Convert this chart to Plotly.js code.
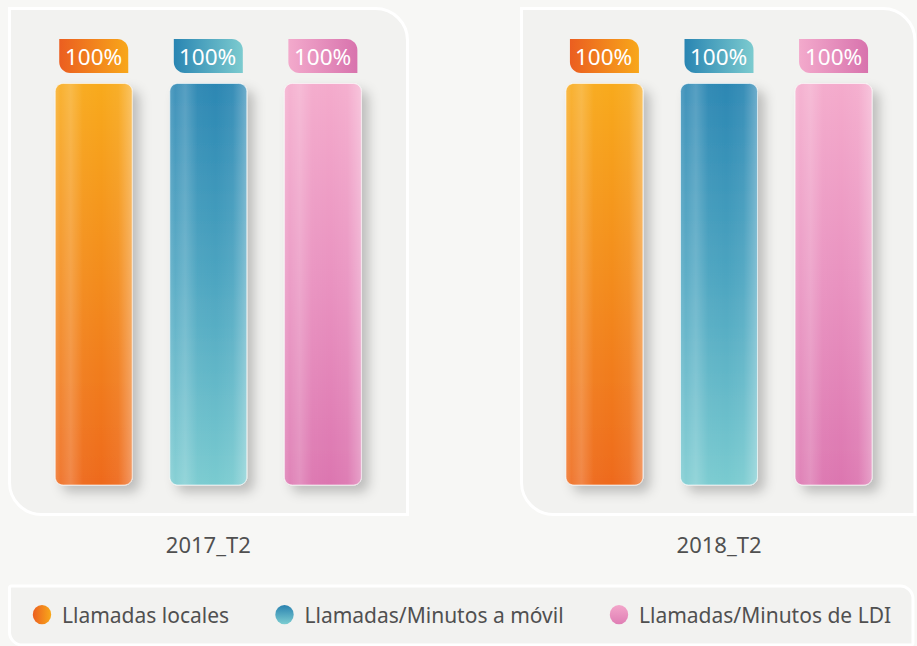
<!DOCTYPE html>
<html>
<head>
<meta charset="utf-8">
<script src="https://cdn.plot.ly/plotly-3.0.1.min.js"></script>
<style>
html,body{margin:0;padding:0;background:#f7f7f5;}
#chart{width:917px;height:646px;}
</style>
</head>
<body>
<div id="chart"></div>
<script>
// ---------- data ----------
const periods = ['2017_T2', '2018_T2'];
const seriesNames = ['Llamadas locales', 'Llamadas/Minutos a móvil', 'Llamadas/Minutos de LDI'];
const valsLocales = [100, 100];
const valsMovil = [100, 100];
const valsLDI = [100, 100];
const seriesValues = [valsLocales, valsMovil, valsLDI];

// ---------- styles ----------
const FONT = 'Noto Sans';
const baseColors = ['#f38a1d', '#4fa5c0', '#e88dbf'];
const barGradStops = [
  [['0', '#f8aa1a'], ['0.5', '#f38b1c'], ['1', '#ee6a1f']],
  [['0', '#2c87b3'], ['0.5', '#4ea6c1'], ['1', '#7acbd0']],
  [['0', '#f4abcc'], ['0.5', '#e992c0'], ['1', '#dc76b0']]
];
const tagGradStops = [
  [['0', '#eb5e20'], ['1', '#f8a71a']],
  [['0', '#2985b2'], ['1', '#7ccbcf']],
  [['0', '#f3aacc'], ['1', '#d873ad']]
];
const legendGradStops = [
  { vertical: false, stops: [['0', '#ec5f20'], ['1', '#f8a81a']] },
  { vertical: true, stops: [['0', '#2a82b0'], ['1', '#7ccdd1']] },
  { vertical: true, stops: [['0', '#f3a6ca'], ['1', '#df7eb4']] }
];

const W = 917, H = 646;
const BARGAP = 0.327, BARGROUPGAP = 0.328;
const cat0px = 208.3, pxPerCat = 510.7;
const y0px = 485, y100px = 83.5, plotBottom = 530;
const pxPerUnit = (y0px - y100px) / 100;

// rounded rectangle path in pixel coords (y down input, output y up for pixel sizemode)
function rrect(l, t, r, b, rtl, rtr, rbr, rbl) {
  const k = 0.5523;
  const P = (x, y) => x.toFixed(2) + ',' + (-y).toFixed(2);
  let d = 'M' + P(l + rtl, t) + ' L' + P(r - rtr, t);
  if (rtr) d += ' C' + P(r - rtr + k * rtr, t) + ' ' + P(r, t + rtr - k * rtr) + ' ' + P(r, t + rtr);
  d += ' L' + P(r, b - rbr);
  if (rbr) d += ' C' + P(r, b - rbr + k * rbr) + ' ' + P(r - rbr + k * rbr, b) + ' ' + P(r - rbr, b);
  d += ' L' + P(l + rbl, b);
  if (rbl) d += ' C' + P(l + rbl - k * rbl, b) + ' ' + P(l, b - rbl + k * rbl) + ' ' + P(l, b - rbl);
  d += ' L' + P(l, t + rtl);
  if (rtl) d += ' C' + P(l, t + rtl - k * rtl) + ' ' + P(l + rtl - k * rtl, t) + ' ' + P(l + rtl, t);
  return d + ' Z';
}

// ---------- traces ----------
const traces = seriesNames.map((name, j) => ({
  type: 'bar',
  x: periods,
  y: seriesValues[j],
  name: name,
  showlegend: false,
  hoverinfo: 'skip',
  marker: { color: baseColors[j], line: { color: 'rgba(255,255,255,0.6)', width: 1 } }
}));
seriesNames.forEach((name, j) => {
  traces.push({
    type: 'scatter', mode: 'markers', x: [null], y: [null], name: name,
    legend: j === 0 ? 'legend' : 'legend' + (j + 1),
    showlegend: true, hoverinfo: 'skip',
    marker: { symbol: 'circle', size: 16, color: baseColors[j] }
  });
});

// ---------- shapes / annotations ----------
const panelShape = (path) => ({
  type: 'path', xref: 'paper', yref: 'paper', xsizemode: 'pixel', ysizemode: 'pixel',
  xanchor: 0, yanchor: 1, path: path, fillcolor: '#f2f2f0',
  line: { color: '#ffffff', width: 3 }, layer: 'below'
});
const shapes = [
  panelShape(rrect(9.5, 8.5, 407.5, 514.5, 0, 32, 0, 32)),
  panelShape(rrect(521.5, 8.5, 915, 514.5, 0, 32, 0, 32)),
  panelShape(rrect(9.5, 586, 913, 645, 2, 13, 2, 13))
];
const annotations = [];
const tagShapeSeries = {};
const nS = seriesNames.length;
const slot = (1 - BARGAP) / nS;
periods.forEach((p, i) => {
  seriesValues.forEach((vals, j) => {
    const xc = i + (j - (nS - 1) / 2) * slot;
    tagShapeSeries[shapes.length] = j;
    shapes.push({
      type: 'path', xref: 'x', yref: 'y', xsizemode: 'pixel', ysizemode: 'pixel',
      xanchor: xc, yanchor: vals[i],
      path: rrect(-34.5, -44.5, 34.5, -10.5, 0, 11, 0, 11),
      fillcolor: baseColors[j], line: { width: 0 }, layer: 'above'
    });
    annotations.push({
      x: xc, y: vals[i], xref: 'x', yref: 'y', text: vals[i] + '%', showarrow: false,
      yshift: 27.5, xshift: -0.5, font: { family: FONT, size: 22.5, color: '#ffffff' }
    });
  });
});

const legendBase = (xpx) => ({
  orientation: 'h', x: (xpx) / W, xanchor: 'left', y: (H - 615) / H, yanchor: 'middle',
  bgcolor: 'rgba(0,0,0,0)', borderwidth: 0,
  font: { family: FONT, size: 21, color: '#505050' }
});

const layout = {
  width: W, height: H,
  margin: { l: 0, r: 0, t: 0, b: 0 },
  paper_bgcolor: '#f7f7f5', plot_bgcolor: 'rgba(0,0,0,0)',
  barmode: 'group', bargap: BARGAP, bargroupgap: BARGROUPGAP,
  font: { family: FONT, color: '#555555' },
  xaxis: {
    type: 'category', range: [-cat0px / pxPerCat, (W - cat0px) / pxPerCat],
    showgrid: false, zeroline: false, showline: false, ticks: '',
    tickfont: { family: FONT, size: 22, color: '#505050' }, fixedrange: true
  },
  yaxis: {
    domain: [(H - plotBottom) / H, 1],
    range: [(y0px - plotBottom) / pxPerUnit, y0px / pxPerUnit],
    visible: false, fixedrange: true
  },
  showlegend: true,
  legend: legendBase(22),
  legend2: legendBase(264.5),
  legend3: legendBase(599),
  shapes: shapes,
  annotations: annotations
};

const gd = document.getElementById('chart');
Plotly.newPlot(gd, traces, layout, { staticPlot: true, displayModeBar: false }).then(() => {
  const NS = 'http://www.w3.org/2000/svg';
  const svg = gd.querySelector('svg.main-svg');
  const defs = document.createElementNS(NS, 'defs');
  svg.insertBefore(defs, svg.firstChild);
  function grad(id, stops, vertical, opacities) {
    const g = document.createElementNS(NS, 'linearGradient');
    g.setAttribute('id', id);
    g.setAttribute('x1', '0'); g.setAttribute('y1', '0');
    g.setAttribute('x2', vertical ? '0' : '1'); g.setAttribute('y2', vertical ? '1' : '0');
    stops.forEach((s, k) => {
      const st = document.createElementNS(NS, 'stop');
      st.setAttribute('offset', s[0]);
      st.setAttribute('stop-color', s[1]);
      if (opacities) st.setAttribute('stop-opacity', opacities[k]);
      g.appendChild(st);
    });
    defs.appendChild(g);
  }
  barGradStops.forEach((s, j) => grad('barGrad' + j, s, true));
  tagGradStops.forEach((s, j) => grad('tagGrad' + j, s, false));
  legendGradStops.forEach((s, j) => grad('legGrad' + j, s.stops, s.vertical));
  grad('gloss', [['0', '#fff'], ['0.07', '#fff'], ['0.2', '#fff'], ['0.36', '#fff'], ['0.6', '#fff'], ['0.82', '#fff'], ['0.95', '#fff'], ['1', '#fff']],
    false, [0.2, 0.1, 0.2, 0.03, 0, 0.06, 0.24, 0.32]);
  const f = document.createElementNS(NS, 'filter');
  f.setAttribute('id', 'bshadow');
  f.setAttribute('x', '-30%'); f.setAttribute('y', '-10%');
  f.setAttribute('width', '170%'); f.setAttribute('height', '130%');
  const ds = document.createElementNS(NS, 'feDropShadow');
  ds.setAttribute('dx', '7'); ds.setAttribute('dy', '7');
  ds.setAttribute('stdDeviation', '6');
  ds.setAttribute('flood-color', '#000'); ds.setAttribute('flood-opacity', '0.22');
  f.appendChild(ds);
  defs.appendChild(f);

  // bars
  const traceGroups = gd.querySelectorAll('.barlayer .trace');
  traceGroups.forEach((tg, j) => {
    tg.querySelectorAll('.point path').forEach(p => {
      const bb = p.getBBox();
      const r = 8;
      const l = bb.x, t = bb.y, rr = bb.x + bb.width, b = bb.y + bb.height;
      const k = 0.5523 * r;
      const d = `M${l + r},${t} H${rr - r} C${rr - r + k},${t} ${rr},${t + r - k} ${rr},${t + r} V${b - r} C${rr},${b - r + k} ${rr - r + k},${b} ${rr - r},${b} H${l + r} C${l + r - k},${b} ${l},${b - r + k} ${l},${b - r} V${t + r} C${l},${t + r - k} ${l + r - k},${t} ${l + r},${t} Z`;
      p.setAttribute('d', d);
      p.style.fill = 'url(#barGrad' + j + ')';
      p.setAttribute('filter', 'url(#bshadow)');
      const gl = p.cloneNode(false);
      gl.removeAttribute('filter');
      gl.style.fill = 'url(#gloss)';
      gl.style.stroke = 'none';
      p.parentNode.insertBefore(gl, p.nextSibling);
    });
  });
  // tags
  Object.keys(tagShapeSeries).forEach(idx => {
    const p = gd.querySelector('.layer-above .shapelayer path[data-index="' + idx + '"]');
    if (p) p.style.fill = 'url(#tagGrad' + tagShapeSeries[idx] + ')';
  });
  // legend symbols
  ['legend', 'legend2', 'legend3'].forEach((lg, j) => {
    gd.querySelectorAll('.' + lg + ' .legendpoints path').forEach(p => {
      p.style.fill = 'url(#legGrad' + j + ')';
      p.style.stroke = 'none';
      const tr = p.getAttribute('transform') || '';
      p.setAttribute('transform', tr + ' scale(1.15,1.2)');
    });
  });
});
</script>
</body>
</html>
